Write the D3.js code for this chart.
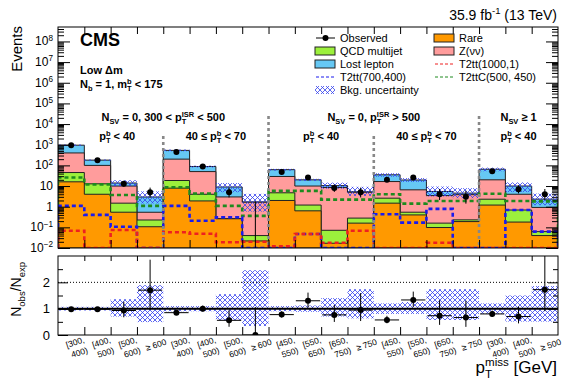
<!DOCTYPE html>
<html>
<head>
<meta charset="utf-8">
<script src="https://cdn.jsdelivr.net/npm/d3@7"></script>
<style>
body { margin: 0; background: #fff; }
svg { font-family: "Liberation Sans", Arial, sans-serif; }
text { white-space: pre; }
</style>
</head>
<body>
<svg id="viz"></svg>
<script>
// bin labels (p_T^miss ranges)
var binLabels = ["[300, 400)", "[400, 500)", "[500, 600)", "≥ 600",
                 "[300, 400)", "[400, 500)", "[500, 600)", "≥ 600",
                 "[450, 550)", "[550, 650)", "[650, 750)", "≥ 750",
                 "[450, 550)", "[550, 650)", "[650, 750)", "≥ 750",
                 "[300, 400)", "[400, 500)", "≥ 500"];

// background components (events per bin)
var rare    = [16, 4.0, 0.54, 0.107, 7.9, 1.9, 0.26, 0.022, 2.0, 0.63, 0.017, 0.16, 1.48, 0.40, 0.098, 0.19, 1.2, 0.18, 0.04];
var qcd     = [29, 8.8, 0.94, 0.12, 10.6, 2.1, 0.005, 0.018, 2.7, 0.57, 0.055, 0.12, 1.1, 0.14, 0.062, 0.04, 1.1, 0.51, 0.022];
var znunu   = [355, 87, 8.5, 0.31, 182, 46, 2.7, 1.6, 24.3, 8.8, 8.4, 4.7, 13.9, 6.0, 3.3, 3.6, 17.7, 3.3, 0.86];
var lostlep = [550, 80, 4.0, 2.4, 330, 38, 6.0, 0.06, 33, 10, 2.0, 0.3, 18.5, 13, 2.0, 0.7, 45, 6.0, 1.4];

// relative background uncertainty (down / up)
var uncLo = [0.07, 0.07, 0.3, 0.51, 0.1, 0.1, 0.44, 0.66, 0.1, 0.12, 0.3, 0.37, 0.2, 0.2, 0.43, 0.43, 0.2, 0.49, 0.49];
var uncHi = [0.07, 0.07, 0.36, 0.89, 0.1, 0.1, 0.55, 1.46, 0.1, 0.12, 0.4, 0.74, 0.2, 0.25, 0.74, 0.74, 0.2, 0.5, 0.86];

// observed data and its errors
var observed = [930, 176, 13, 5, 450, 88, 5, 0, 48, 26, 8, 5, 20, 26, 4, 3, 52, 7, 4];
var obsErrLo = [30, 13, 3.6, 2.2, 21, 9.4, 2.2, 0, 6.9, 5.1, 2.8, 2.2, 4.4, 5.1, 1.9, 1.6, 7.2, 2.6, 1.9];
var obsErrHi = [31, 14, 4.7, 3.4, 22, 10.4, 3.4, 1.8, 7.9, 6.2, 3.9, 3.4, 5.5, 6.2, 3.2, 2.9, 8.3, 3.8, 3.2];

// signal models
var sigT2tt1000 = [0.068, 0, 0.074, 0, 0.058, 0.049, 0.019, 0.02, 0.012, 0.048, 0.018, 0.068, 0, 0, 0.018, 0, 0, 0, 0];
var sigT2tt700  = [1.1, 0.40, 0.107, 0, 1.1, 0.21, 0.31, 0, 0, 0.048, 0, 0, 0.43, 0.17, 0.78, 0, 0, 0.69, 0.062];
var sigT2ttC    = [26, 12, 3.7, 1.1, 8.8, 4.3, 1.1, 0.36, 5.8, 5.8, 2.2, 2.2, 4.0, 1.4, 1.9, 1.9, 4.2, 1.9, 1.8];

var nb = binLabels.length;
var L = 58, R = 558, T = 27, B = 248, RT = 256, RB = 335;

var x = d3.scaleLinear().domain([0, nb]).range([L, R]);
var y = d3.scaleLog().domain([1e-2, 5e8]).range([B, T]).clamp(true);
var yr = d3.scaleLinear().domain([0, 3]).range([RB, RT]);
function yv(v) { return y(Math.max(v, 1e-2)); }

var svg = d3.select("#viz").attr("width", 581).attr("height", 388);
var defs = svg.append("defs");
var pat = defs.append("pattern").attr("id", "hatch").attr("patternUnits", "userSpaceOnUse")
    .attr("width", 5).attr("height", 5);
pat.append("path").attr("d", "M0,0L5,5M5,0L0,5M-1,4L1,6M4,-1L6,1M-1,1L1,-1M4,6L6,4")
    .attr("stroke", "#3340ee").attr("stroke-width", 0.8).attr("fill", "none");
defs.append("clipPath").attr("id", "clipMain").append("rect")
    .attr("x", L).attr("y", T).attr("width", R - L).attr("height", B - T);
defs.append("clipPath").attr("id", "clipRatio").append("rect")
    .attr("x", L).attr("y", RT).attr("width", R - L).attr("height", RB - RT);

// text with _{sub} and ^{sup}
function rich(sel, str, fs) {
    var re = /_\{([^}]*)\}\^\{([^}]*)\}|\^\{([^}]*)\}|_\{([^}]*)\}|([^_^]+)/g;
    var m, cur = 0, pendingDx = 0, sfs = fs * 0.68;
    function span(txt, off, size) {
        var t = sel.append("tspan").attr("font-size", size).attr("dy", off - cur).text(txt);
        if (pendingDx) t.attr("dx", pendingDx);
        pendingDx = 0; cur = off;
        return t;
    }
    while ((m = re.exec(str)) !== null) {
        if (m[1] !== undefined) {
            var l1 = span(m[2], -0.4 * fs, sfs).node().getComputedTextLength();
            pendingDx = -l1;
            var l2 = span(m[1], 0.3 * fs, sfs).node().getComputedTextLength();
            pendingDx = Math.max(0, l1 - l2);
        } else if (m[3] !== undefined) span(m[3], -0.4 * fs, sfs);
        else if (m[4] !== undefined) span(m[4], 0.3 * fs, sfs);
        else span(m[5], 0, fs);
    }
    return sel;
}
function label(px, py, str, fs, opts) {
    opts = opts || {};
    var t = svg.append("text").attr("x", px).attr("y", py).attr("font-size", fs)
        .attr("font-weight", opts.bold ? "bold" : null)
        .attr("text-anchor", opts.anchor || "start")
        .attr("transform", opts.transform || null);
    return rich(t, str, fs);
}

// ---------- main panel ----------
var main = svg.append("g").attr("clip-path", "url(#clipMain)");

function stepArea(vals) {
    var p = "M" + x(0) + "," + B;
    vals.forEach(function(v, i) { p += "L" + x(i) + "," + yv(v) + "L" + x(i + 1) + "," + yv(v); });
    return p + "L" + x(nb) + "," + B + "Z";
}
function stepLine(vals) {
    var p = "M" + x(0) + "," + B;
    vals.forEach(function(v, i) { p += "L" + x(i) + "," + yv(v) + "L" + x(i + 1) + "," + yv(v); });
    return p + "L" + x(nb) + "," + B;
}

var cumRare = rare.slice();
var cumQcd = rare.map(function(v, i) { return v + qcd[i]; });
var cumZ = cumQcd.map(function(v, i) { return v + znunu[i]; });
var expected = cumZ.map(function(v, i) { return v + lostlep[i]; });

var layers = [
    {vals: expected, color: "#66c8f4"},
    {vals: cumZ, color: "#ff9c9c"},
    {vals: cumQcd, color: "#9cf03c"},
    {vals: cumRare, color: "#ff9900"}
];
layers.forEach(function(l) {
    main.append("path").attr("d", stepArea(l.vals)).attr("fill", l.color)
        .attr("stroke", "#222").attr("stroke-width", 1);
});

// background uncertainty
main.selectAll("rect.unc").data(expected).enter().append("rect")
    .attr("x", function(d, i) { return x(i); })
    .attr("width", x(1) - x(0))
    .attr("y", function(d, i) { return yv(d * (1 + uncHi[i])); })
    .attr("height", function(d, i) { return yv(d * (1 - uncLo[i])) - yv(d * (1 + uncHi[i])); })
    .attr("fill", "url(#hatch)");

// signals
var signals = [
    {vals: sigT2ttC, color: "#1e8a1e"},
    {vals: sigT2tt700, color: "#1a1aee"},
    {vals: sigT2tt1000, color: "#ee2020"}
];
signals.forEach(function(s) {
    main.append("path").attr("d", stepLine(s.vals)).attr("fill", "none")
        .attr("stroke", s.color).attr("stroke-width", 2.6).attr("stroke-dasharray", "4,3");
});

// separators
var seps = [{b: 4, top: 136}, {b: 8, top: 116}, {b: 12, top: 136}, {b: 16, top: 116}];
seps.forEach(function(s) {
    svg.append("line").attr("x1", x(s.b)).attr("x2", x(s.b)).attr("y1", s.top).attr("y2", B)
        .attr("stroke", "#888").attr("stroke-width", 2.6).attr("stroke-dasharray", "3,3");
});

// observed
var obsG = svg.append("g").attr("clip-path", "url(#clipMain)");
observed.forEach(function(v, i) {
    var cx = x(i + 0.5);
    obsG.append("line").attr("x1", cx).attr("x2", cx)
        .attr("y1", yv(v - obsErrLo[i])).attr("y2", yv(v + obsErrHi[i]))
        .attr("stroke", "#000").attr("stroke-width", 1);
    if (v > 0) obsG.append("circle").attr("cx", cx).attr("cy", yv(v)).attr("r", 3).attr("fill", "#000");
});

// main axes
var decades = d3.range(-2, 9).map(function(k) { return Math.pow(10, k); });
var minors = [];
d3.range(-2, 9).forEach(function(k) {
    d3.range(2, 10).forEach(function(m) { var v = m * Math.pow(10, k); if (v < 5e8) minors.push(v); });
});
svg.append("g").attr("transform", "translate(" + L + ",0)")
    .call(d3.axisLeft(y).tickValues(minors).tickSize(-6).tickSizeOuter(0).tickFormat(""));
svg.append("g").attr("transform", "translate(" + R + ",0)")
    .call(d3.axisRight(y).tickValues(minors).tickSize(-6).tickSizeOuter(0).tickFormat(""));
svg.append("g").attr("transform", "translate(" + R + ",0)")
    .call(d3.axisRight(y).tickValues(decades).tickSize(-12).tickSizeOuter(0).tickFormat(""));
svg.append("g").attr("transform", "translate(" + L + ",0)")
    .call(d3.axisLeft(y).tickValues(decades).tickSize(-12).tickSizeOuter(0).tickFormat(""));
decades.forEach(function(v) {
    var k = Math.round(Math.log10(v));
    var s = k === 0 ? "1" : k === 1 ? "10" : "10^{" + (k < 0 ? "\u2212" + (-k) : k) + "}";
    label(L - 5, y(v) + 4, s, 12, {anchor: "end"});
});
svg.append("g").attr("transform", "translate(0," + T + ")")
    .call(d3.axisTop(x).tickValues(d3.range(1, nb)).tickSize(-7).tickSizeOuter(0).tickFormat(""));
svg.append("g").attr("transform", "translate(0," + B + ")")
    .call(d3.axisBottom(x).tickValues(d3.range(1, nb)).tickSize(-8).tickSizeOuter(0).tickFormat(""));
svg.selectAll(".domain").remove();
svg.append("rect").attr("x", L).attr("y", T).attr("width", R - L).attr("height", B - T)
    .attr("fill", "none").attr("stroke", "#000").attr("stroke-width", 1);

// ---------- ratio panel ----------
var rg = svg.append("g").attr("clip-path", "url(#clipRatio)");
rg.selectAll("rect.runc").data(expected).enter().append("rect")
    .attr("x", function(d, i) { return x(i); })
    .attr("width", x(1) - x(0))
    .attr("y", function(d, i) { return yr(1 + uncHi[i]); })
    .attr("height", function(d, i) { return yr(1 - uncLo[i]) - yr(1 + uncHi[i]); })
    .attr("fill", "url(#hatch)");
rg.append("line").attr("x1", L).attr("x2", R).attr("y1", yr(2)).attr("y2", yr(2))
    .attr("stroke", "#000").attr("stroke-width", 1).attr("stroke-dasharray", "1,2");
rg.append("line").attr("x1", L).attr("x2", R).attr("y1", yr(1)).attr("y2", yr(1))
    .attr("stroke", "#000").attr("stroke-width", 2);
observed.forEach(function(v, i) {
    var e = expected[i], cx = x(i + 0.5), cy = yr(v / e);
    rg.append("line").attr("x1", cx).attr("x2", cx)
        .attr("y1", yr((v - obsErrLo[i]) / e)).attr("y2", yr((v + obsErrHi[i]) / e))
        .attr("stroke", "#000").attr("stroke-width", 1);
    rg.append("line").attr("x1", x(i) + 1).attr("x2", x(i + 1) - 1).attr("y1", cy).attr("y2", cy)
        .attr("stroke", "#000").attr("stroke-width", 1);
    rg.append("circle").attr("cx", cx).attr("cy", cy).attr("r", 3).attr("fill", "#000");
});

svg.append("g").attr("transform", "translate(" + L + ",0)")
    .call(d3.axisLeft(yr).tickValues([0.5, 1.5, 2.5]).tickSize(-5).tickSizeOuter(0).tickFormat(""));
svg.append("g").attr("transform", "translate(" + R + ",0)")
    .call(d3.axisRight(yr).tickValues([0.5, 1.5, 2.5]).tickSize(-5).tickSizeOuter(0).tickFormat(""));
svg.append("g").attr("transform", "translate(" + R + ",0)")
    .call(d3.axisRight(yr).tickValues([1, 2]).tickSize(-10).tickSizeOuter(0).tickFormat(""));
svg.append("g").attr("transform", "translate(" + L + ",0)")
    .call(d3.axisLeft(yr).tickValues([0, 1, 2]).tickSize(-10).tickSizeOuter(0).tickPadding(8)
        .tickFormat(d3.format("d")))
    .selectAll("text").attr("font-size", 13).attr("font-family", "Liberation Sans, Arial, sans-serif");
svg.append("g").attr("transform", "translate(0," + RT + ")")
    .call(d3.axisTop(x).tickValues(d3.range(1, nb)).tickSize(-5).tickSizeOuter(0).tickFormat(""));
svg.append("g").attr("transform", "translate(0," + RB + ")")
    .call(d3.axisBottom(x).tickValues(d3.range(1, nb)).tickSize(-8).tickSizeOuter(0).tickFormat(""));
svg.selectAll(".domain").remove();
svg.append("rect").attr("x", L).attr("y", RT).attr("width", R - L).attr("height", RB - RT)
    .attr("fill", "none").attr("stroke", "#000").attr("stroke-width", 1);

// bin labels
binLabels.forEach(function(s, i) {
    var t = svg.append("text").attr("font-size", 8.5)
        .attr("transform", "translate(" + (x(i) + 9) + ",348) rotate(-18)");
    var parts = s.split(", ");
    if (parts.length === 2) {
        t.append("tspan").attr("x", 0).attr("y", 0).text(parts[0] + ",");
        t.append("tspan").attr("x", 2).attr("y", 11).text(parts[1]);
    } else {
        t.append("tspan").attr("x", 0).attr("y", 3).text(s);
    }
});

// ---------- titles and annotations ----------
label(22, 26, "Events", 15, {anchor: "end", transform: "rotate(-90,22,26)"});
label(21, 262, "N_{obs}/N_{exp}", 14, {anchor: "end", transform: "rotate(-90,21,262)"});
label(557, 373, "p_{T}^{miss} [GeV]", 17, {anchor: "end"});
label(557, 20, "35.9 fb^{-1} (13 TeV)", 14, {anchor: "end"});
label(80, 46, "CMS", 18, {bold: true});
label(80, 74, "Low \u0394m", 11, {bold: true});
label(80, 88, "N_{b} = 1, m_{T}^{b} < 175", 11, {bold: true});

label(x(4), 121, "N_{SV} = 0, 300 < p_{T}^{ISR} < 500", 11, {bold: true, anchor: "middle"});
label(x(12), 121, "N_{SV} = 0, p_{T}^{ISR} > 500", 11, {bold: true, anchor: "middle"});
label(x(17.5), 121, "N_{SV} \u2265 1", 11, {bold: true, anchor: "middle"});
label(x(2.25), 140, "p_{T}^{b} < 40", 11, {bold: true, anchor: "middle"});
label(x(6), 140, "40 \u2264 p_{T}^{b} < 70", 11, {bold: true, anchor: "middle"});
label(x(10), 140, "p_{T}^{b} < 40", 11, {bold: true, anchor: "middle"});
label(x(14), 140, "40 \u2264 p_{T}^{b} < 70", 11, {bold: true, anchor: "middle"});
label(x(17.5), 140, "p_{T}^{b} < 40", 11, {bold: true, anchor: "middle"});

// ---------- legend ----------
var legend = [
    {col: 0, row: 0, text: "Observed", type: "obs"},
    {col: 1, row: 0, text: "Rare", type: "box", color: "#ff9900"},
    {col: 0, row: 1, text: "QCD multijet", type: "box", color: "#9cf03c"},
    {col: 1, row: 1, text: "Z(\u03bd\u03bd)", type: "box", color: "#ff9c9c"},
    {col: 0, row: 2, text: "Lost lepton", type: "box", color: "#66c8f4"},
    {col: 1, row: 2, text: "T2tt(1000,1)", type: "line", color: "#ee2020"},
    {col: 0, row: 3, text: "T2tt(700,400)", type: "line", color: "#1a1aee"},
    {col: 1, row: 3, text: "T2ttC(500, 450)", type: "line", color: "#1e8a1e"},
    {col: 0, row: 4, text: "Bkg. uncertainty", type: "hatch"}
];
var colX = [315, 434];
legend.forEach(function(d) {
    var lx = colX[d.col], ly = 38 + d.row * 13;
    var g = svg.append("g");
    if (d.type === "obs") {
        g.append("line").attr("x1", lx + 1).attr("x2", lx + 20).attr("y1", ly).attr("y2", ly).attr("stroke", "#000");
        g.append("circle").attr("cx", lx + 10.5).attr("cy", ly).attr("r", 3).attr("fill", "#000");
    } else if (d.type === "box") {
        g.append("rect").attr("x", lx).attr("y", ly - 4).attr("width", 20).attr("height", 8)
            .attr("fill", d.color).attr("stroke", "#222").attr("stroke-width", 1);
    } else if (d.type === "line") {
        g.append("line").attr("x1", lx + 1).attr("x2", lx + 20).attr("y1", ly).attr("y2", ly)
            .attr("stroke", d.color).attr("stroke-width", 1).attr("stroke-dasharray", "3,2");
    } else {
        g.append("rect").attr("x", lx).attr("y", ly - 4).attr("width", 20).attr("height", 8)
            .attr("fill", "url(#hatch)");
    }
    svg.append("text").attr("x", lx + 25).attr("y", ly + 4).attr("font-size", 11).text(d.text);
});
</script>
</body>
</html>
